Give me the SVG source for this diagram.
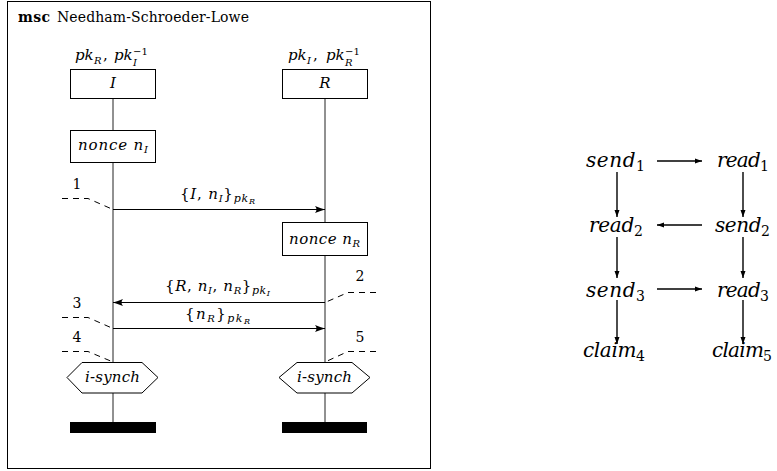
<svg xmlns="http://www.w3.org/2000/svg" width="777" height="471" viewBox="0 0 777 471" font-family="'DejaVu Serif', 'Liberation Serif', serif">
<defs>
<style>
.m{font-style:italic}
.s{font-size:10px}
.box{fill:#fff;stroke:#000;stroke-width:1}
.life{stroke:#222;stroke-width:1;fill:none}
.msg{stroke:#000;stroke-width:1;fill:none;marker-end:url(#st)}
.dash{stroke:#000;stroke-width:1;fill:none;stroke-dasharray:6,5}
.ga{stroke:#000;stroke-width:1.4;fill:none;marker-end:url(#tri)}
.ev{font-size:20px;font-style:italic}
.ev tspan{font-style:normal;font-size:14px}
</style>
<marker id="st" markerWidth="12" markerHeight="10" refX="10" refY="5" orient="auto" markerUnits="userSpaceOnUse">
<path d="M0,1.5 Q6,4 10,5 Q6,6 0,8.5 Q3,5 0,1.5 Z" fill="#000"/>
</marker>
<marker id="tri" markerWidth="8" markerHeight="6" refX="7" refY="3" orient="auto" markerUnits="userSpaceOnUse">
<path d="M0,0.5 L7,3 L0,5.5 Z" fill="#000"/>
</marker>
</defs>
<rect width="777" height="471" fill="#fff"/>

<g id="frame">
<rect x="7.5" y="1.5" width="423" height="467" fill="none" stroke="#000" stroke-width="1"/>
<text x="18" y="22" font-size="14" font-weight="bold" textLength="32">msc</text>
<text x="57" y="22" font-size="14" textLength="192">Needham-Schroeder-Lowe</text>
</g>

<g id="lifelines">
<line class="life" x1="113" y1="98" x2="113" y2="422"/>
<line class="life" x1="325" y1="98" x2="325" y2="422"/>
</g>

<g id="inst-I">
<text x="75" y="60" font-size="15" class="m">pk</text>
<text x="94" y="64" font-size="10" class="m">R</text>
<text x="103" y="60" font-size="15">,</text>
<text x="114" y="60" font-size="15" class="m">pk</text>
<text x="133" y="55" font-size="10">−1</text>
<text x="133" y="66" font-size="10" class="m">I</text>
<rect class="box" x="70.5" y="69.5" width="85" height="29"/>
<text x="113" y="88" font-size="15" class="m" text-anchor="middle">I</text>
</g>

<g id="inst-R">
<text x="288" y="60" font-size="15" class="m">pk</text>
<text x="307" y="64" font-size="10" class="m">I</text>
<text x="313" y="60" font-size="15">,</text>
<text x="326" y="60" font-size="15" class="m">pk</text>
<text x="345" y="55" font-size="10">−1</text>
<text x="345" y="66" font-size="10" class="m">R</text>
<rect class="box" x="282.5" y="69.5" width="85" height="29"/>
<text x="325" y="88" font-size="15" class="m" text-anchor="middle">R</text>
</g>

<g id="nonce-I">
<rect class="box" x="70.5" y="130.5" width="85" height="32"/>
<text x="78" y="150" font-size="15" class="m" textLength="70">nonce n<tspan class="s" dy="3">I</tspan></text>
</g>

<g id="nonce-R">
<rect class="box" x="282.5" y="222.5" width="85" height="33"/>
<text x="289" y="244" font-size="15" class="m" textLength="71">nonce n<tspan class="s" dy="3">R</tspan></text>
</g>

<g id="synch-I">
<polygon class="box" points="67,377.5 82,362.5 142,362.5 158,377.5 142,393 82,393"/>
<text x="85" y="382" font-size="15" class="m" textLength="55">i-synch</text>
</g>
<g id="synch-R">
<polygon class="box" points="279,377.5 297,362.5 352,362.5 370,377.5 352,393 297,393"/>
<text x="297" y="382" font-size="15" class="m" textLength="55">i-synch</text>
</g>

<g id="stop-I"><rect x="70" y="422" width="86" height="11" fill="#000"/></g>
<g id="stop-R"><rect x="282" y="422" width="85" height="11" fill="#000"/></g>

<g id="connectors">
<line class="msg" x1="113" y1="209.5" x2="325" y2="209.5"/>
<line class="msg" x1="325" y1="302.5" x2="113" y2="302.5"/>
<line class="msg" x1="113" y1="328.5" x2="325" y2="328.5"/>
<path class="dash" d="M62,198.5 L88,198.5 L113,209.5"/>
<path class="dash" d="M376,292.5 L348,292.5 L325,302.5"/>
<path class="dash" d="M62,317.5 L88,317.5 L113,328.5"/>
<path class="dash" d="M62,351.5 L88,351.5 L113,362"/>
<path class="dash" d="M376,351.5 L348,351.5 L325,362"/>

<line class="ga" x1="657" y1="161" x2="702" y2="161"/>
<line class="ga" x1="702" y1="225" x2="657" y2="225"/>
<line class="ga" x1="657" y1="289" x2="702" y2="289"/>
<line class="ga" x1="617" y1="172" x2="617" y2="217"/>
<line class="ga" x1="617" y1="237" x2="617" y2="278"/>
<line class="ga" x1="617" y1="300" x2="617" y2="344"/>
<line class="ga" x1="743" y1="172" x2="743" y2="217"/>
<line class="ga" x1="743" y1="237" x2="743" y2="278"/>
<line class="ga" x1="743" y1="300" x2="743" y2="344"/>
</g>

<g id="msg-labels">
<text x="180" y="199" font-size="15" textLength="75">{<tspan class="m">I</tspan>, <tspan class="m">n</tspan><tspan class="m s" dy="3">I</tspan><tspan dy="-3">}</tspan><tspan class="m" font-size="11" dy="3">pk</tspan><tspan class="m" font-size="8" dy="2">R</tspan></text>
<text x="165" y="291" font-size="15" textLength="105">{<tspan class="m">R</tspan>, <tspan class="m">n</tspan><tspan class="m s" dy="3">I</tspan><tspan dy="-3">, </tspan><tspan class="m">n</tspan><tspan class="m s" dy="3">R</tspan><tspan dy="-3">}</tspan><tspan class="m" font-size="11" dy="3">pk</tspan><tspan class="m" font-size="8" dy="2">I</tspan></text>
<text x="185" y="319" font-size="15" textLength="65">{<tspan class="m">n</tspan><tspan class="m s" dy="3">R</tspan><tspan dy="-3">}</tspan><tspan class="m" font-size="11" dy="3">pk</tspan><tspan class="m" font-size="8" dy="2">R</tspan></text>
<text x="77" y="189" font-size="14" text-anchor="middle">1</text>
<text x="360" y="281" font-size="14" text-anchor="middle">2</text>
<text x="77" y="308" font-size="14" text-anchor="middle">3</text>
<text x="77" y="342" font-size="14" text-anchor="middle">4</text>
<text x="360" y="342" font-size="14" text-anchor="middle">5</text>
</g>

<g id="events">
<g id="send1"><text class="ev" x="586" y="167" textLength="59">send<tspan dy="4">1</tspan></text></g>
<g id="read1"><text class="ev" x="717" y="167" textLength="52">read<tspan dy="4">1</tspan></text></g>
<g id="read2"><text class="ev" x="589" y="232" textLength="54">read<tspan dy="4">2</tspan></text></g>
<g id="send2"><text class="ev" x="715" y="232" textLength="55">send<tspan dy="4">2</tspan></text></g>
<g id="send3"><text class="ev" x="586" y="297" textLength="59">send<tspan dy="4">3</tspan></text></g>
<g id="read3"><text class="ev" x="717" y="297" textLength="52">read<tspan dy="4">3</tspan></text></g>
<g id="claim4"><text class="ev" x="583" y="357" textLength="62">claim<tspan dy="4">4</tspan></text></g>
<g id="claim5"><text class="ev" x="712" y="357" textLength="60">claim<tspan dy="4">5</tspan></text></g>
</g>
</svg>
